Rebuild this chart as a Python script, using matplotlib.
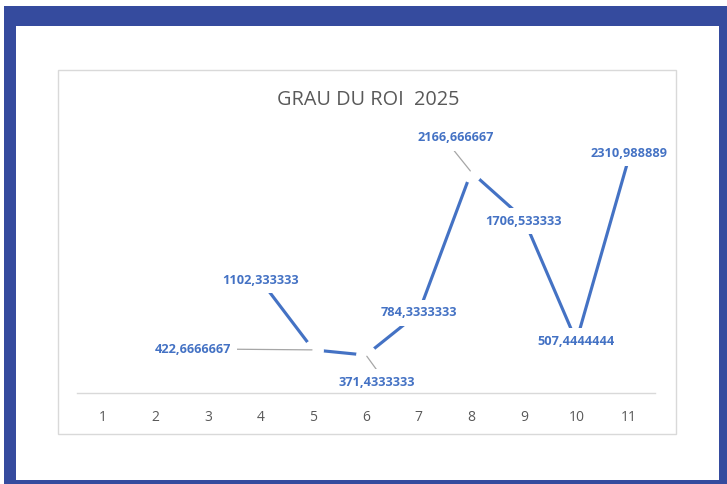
import numpy as np
import matplotlib
matplotlib.use("Agg")
import matplotlib.pyplot as plt
from matplotlib.patches import Rectangle

plt.rcParams['font.family'] = ['Open Sans', 'DejaVu Sans']

# ---- data ----
categories = [1, 2, 3, 4, 5, 6, 7, 8, 9, 10, 11]
values = [np.nan, np.nan, np.nan, 1102.333333, 422.6666667, 371.4333333,
          784.3333333, 2166.666667, 1706.533333, 507.4444444, 2310.988889]
labels = ["", "", "", "1102,333333", "422,6666667", "371,4333333",
          "784,3333333", "2166,666667", "1706,533333", "507,4444444", "2310,988889"]
title = "GRAU DU ROI  2025"

# label offsets in points (style), and which labels use leader lines
offsets = {3: (0, 0), 4: (-87, 0.5), 5: (8, -19.5), 6: (0, 0),
           7: (-11.5, 24.5), 8: (0, -1.5), 9: (0, 0), 10: (0, 3)}
leader_relpos = {4: (1.0, 0.5), 5: (0.55, 1.0), 7: (0.42, 0.0)}

W, H = 727, 484
fig = plt.figure(figsize=(W / 100, H / 100), dpi=100)
fig.patch.set_facecolor('white')

# outer blue frame
fig.patches.append(Rectangle((4 / W, 0), 723 / W, (H - 6) / H, transform=fig.transFigure,
                             facecolor='#354b9e', edgecolor='none', zorder=-3))
fig.patches.append(Rectangle((16 / W, 4 / H), 703 / W, 454 / H, transform=fig.transFigure,
                             facecolor='white', edgecolor='none', zorder=-2))
# chart area border
fig.patches.append(Rectangle((58 / W, 50 / H), 618 / W, 364 / H, transform=fig.transFigure,
                             facecolor='white', edgecolor='#d9d9d9', linewidth=1.0, zorder=-1))

ax = fig.add_axes([76.7 / W, 91 / H, (655.3 - 76.7) / W, 255 / H])
ax.set_facecolor('none')
ax.set_zorder(1)
ax.set_xlim(0.5, 11.5)
ax.set_ylim(0, 2500)

ax.plot(categories, values, color='#4472C4', linewidth=2.25, zorder=2,
        solid_capstyle='butt')

# gaps where labels were moved away
gap_idx = sorted(leader_relpos)
ax.plot([categories[i] for i in gap_idx], [values[i] for i in gap_idx], linestyle='none',
        marker='o', markersize=15, markerfacecolor='white', markeredgecolor='none', zorder=2.5)

for i, (x, v, lab) in enumerate(zip(categories, values, labels)):
    if np.isnan(v):
        continue
    dx, dy = offsets.get(i, (0, 0))
    kw = {}
    if i in leader_relpos:
        kw['arrowprops'] = dict(arrowstyle='-', color='#a6a6a6', linewidth=0.9,
                                shrinkA=0, shrinkB=1, relpos=leader_relpos[i])
    ax.annotate(lab, xy=(x, v), xytext=(dx, dy), textcoords='offset points',
                ha='center', va='center', fontsize=9.2, fontweight='bold', color='#4472C4',
                bbox=dict(boxstyle='square,pad=0.5', facecolor='white', edgecolor='none'),
                zorder=3, **kw)

for s in ['top', 'right', 'left']:
    ax.spines[s].set_visible(False)
ax.spines['bottom'].set_color('#d9d9d9')
ax.spines['bottom'].set_linewidth(1.0)
ax.spines['bottom'].set_zorder(5)
ax.set_yticks([])
ax.set_xticks(categories)
ax.set_xticklabels([str(c) for c in categories], fontsize=10, color='#595959')
ax.tick_params(axis='x', length=0, pad=12)

fig.text(368 / W, 1 - 100 / H, title, ha='center', va='center', fontsize=14.3, color='#595959')

fig.savefig('out.png', dpi=100)
